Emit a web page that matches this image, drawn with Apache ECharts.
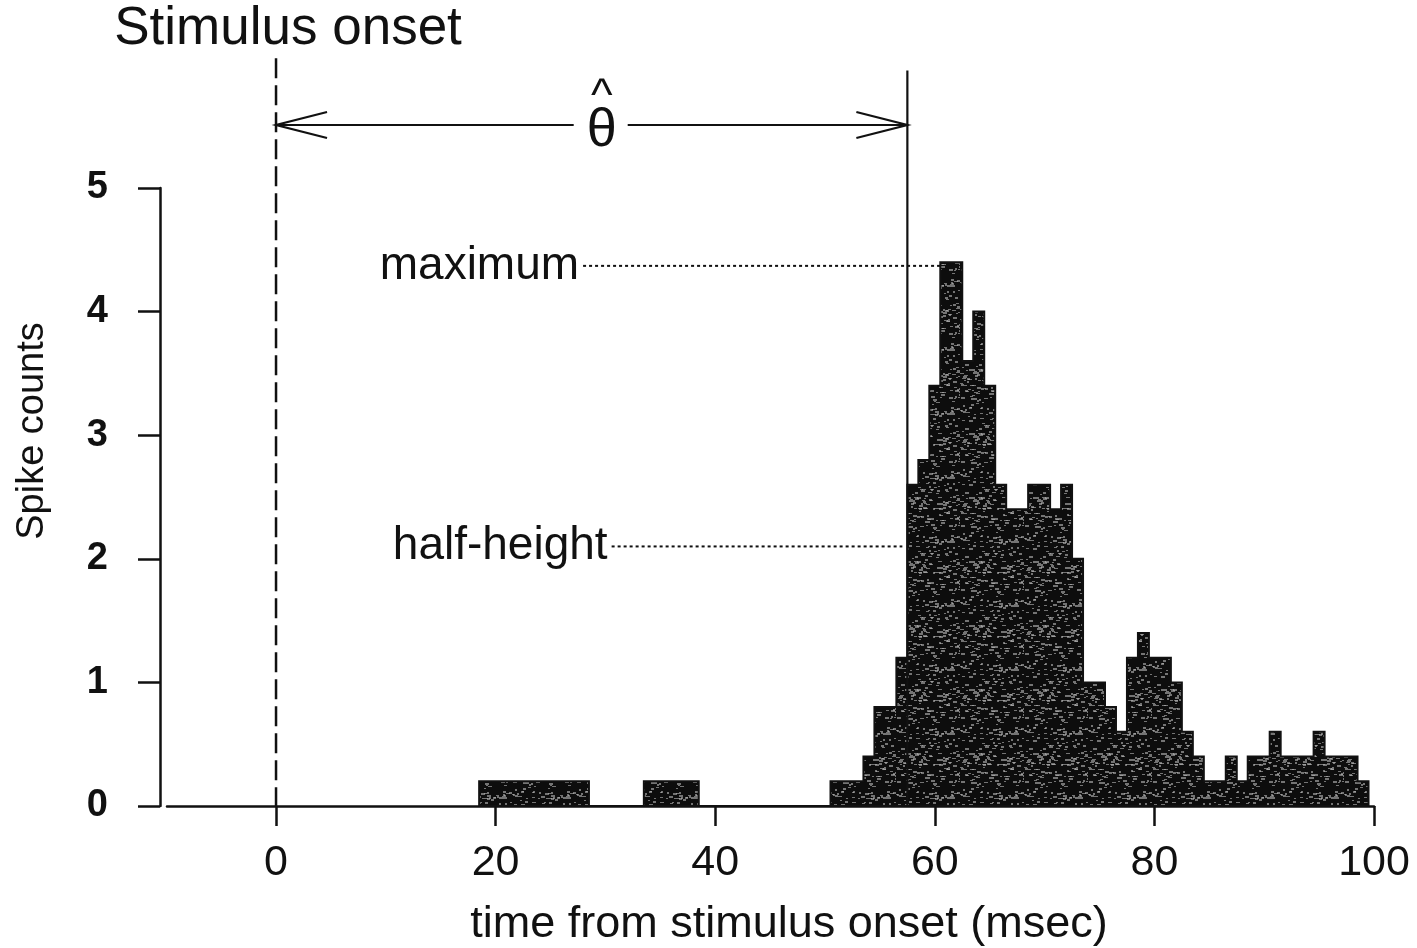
<!DOCTYPE html>
<html>
<head>
<meta charset="utf-8">
<script src="https://cdn.jsdelivr.net/npm/echarts@6/dist/echarts.min.js"></script>
<style>
  html, body { margin: 0; padding: 0; background: #fff; }
  #chart { width: 1417px; height: 948px; }
</style>
</head>
<body>
<div id="chart"></div>
<script>
// Peri-stimulus time histogram, 1-ms bins (bin centres in msec)
const binTimes = [
  19, 20, 21, 22, 23, 24, 25, 26, 27, 28,
  34, 35, 36, 37, 38,
  51, 52, 53, 54, 55, 56, 57, 58, 59, 60,
  61, 62, 63, 64, 65, 66, 67, 68, 69, 70,
  71, 72, 73, 74, 75, 76, 77, 78, 79, 80,
  81, 82, 83, 84, 85, 86, 87, 88, 89, 90,
  91, 92, 93, 94, 95, 96, 97, 98, 99
];
const spikeCounts = [
  0.2, 0.2, 0.2, 0.2, 0.2, 0.2, 0.2, 0.2, 0.2, 0.2,
  0.2, 0.2, 0.2, 0.2, 0.2,
  0.2, 0.2, 0.2, 0.4, 0.8, 0.8, 1.2, 2.6, 2.8, 3.4,
  4.4, 4.4, 3.6, 4.0, 3.4, 2.6, 2.4, 2.4, 2.6, 2.6,
  2.4, 2.6, 2.0, 1.0, 1.0, 0.8, 0.6, 1.2, 1.4, 1.2,
  1.2, 1.0, 0.6, 0.4, 0.2, 0.2, 0.4, 0.2, 0.4, 0.4,
  0.6, 0.4, 0.4, 0.4, 0.6, 0.4, 0.4, 0.4, 0.2
];
const xTicks = [0, 20, 40, 60, 80, 100];
const yTicks = [0, 1, 2, 3, 4, 5];

// Latency annotation values
const onsetTime = 0;        // stimulus onset
const thetaHat = 57.5;      // estimated latency
const maxLevel = 4.37;      // "maximum" reference level
const halfLevel = 2.1;      // "half-height" reference level
const peakEdge = 60.5;      // left edge of the peak bin

const FONT = "'Liberation Sans', Arial, Helvetica, sans-serif";
const INK = '#111';

// Stippled dark fill for the histogram
function makeTexture() {
  const c = document.createElement('canvas');
  c.width = 64; c.height = 64;
  const g = c.getContext('2d');
  g.fillStyle = '#0d0d0d';
  g.fillRect(0, 0, 64, 64);
  g.fillStyle = 'rgba(185,185,185,0.6)';
  let s = 7;
  for (let i = 0; i < 190; i++) {
    s = (s * 73 + 41) % 4096;
    const x = s % 64, y = Math.floor(s / 64);
    g.fillRect(x, y, 2 + (i % 3), 1 + (i % 2));
  }
  return c;
}
const texture = makeTexture();

function renderHistogram(params, api) {
  const P = (x, y) => api.coord([x, y]);
  const countAt = new Map(binTimes.map((t, i) => [t, spikeCounts[i]]));
  const first = binTimes[0], last = binTimes[binTimes.length - 1];
  const pts = [P(first - 0.5, 0)];
  for (let t = first; t <= last; t++) {
    const c = countAt.get(t) || 0;
    pts.push(P(t - 0.5, c), P(t + 0.5, c));
  }
  pts.push(P(last + 0.5, 0));
  return {
    type: 'polygon',
    shape: { points: pts },
    style: { fill: { image: texture, repeat: 'repeat' }, stroke: INK, lineWidth: 2, lineJoin: 'miter' }
  };
}

function renderAnnotations(params, api) {
  const P = (x, y) => api.coord([x, y]);
  const kids = [];
  const line = (a, b, style) => kids.push({
    type: 'line', shape: { x1: a[0], y1: a[1], x2: b[0], y2: b[1] },
    style: Object.assign({ stroke: INK, lineWidth: 2 }, style)
  });
  const text = (str, x, y, size, align, extra) => kids.push({
    type: 'text', x: x, y: y,
    style: Object.assign({ text: str, fill: INK, font: size + 'px ' + FONT, align: align, verticalAlign: 'middle' }, extra || {})
  });

  // stimulus onset (dashed) and latency marker (solid)
  const onTop = P(onsetTime, 6.05), onBot = P(onsetTime, 0);
  line(onTop, onBot, { lineWidth: 2.5, lineDash: [20, 7] });
  text('Stimulus onset', onTop[0] + 12, onTop[1] - 29, 53, 'center');
  const thTop = P(thetaHat, 5.95), thBot = P(thetaHat, 0);
  line(thTop, thBot, { lineWidth: 2.2 });

  // double-headed arrow between onset and latency
  const aL = P(onsetTime, 5.51), aR = P(thetaHat, 5.51);
  const midX = (aL[0] + aR[0]) / 2 + 10;
  line(aL, [midX - 28, aL[1]], { lineWidth: 2 });
  line([midX + 26, aR[1]], aR, { lineWidth: 2 });
  kids.push({ type: 'polyline', shape: { points: [[aL[0] + 51, aL[1] - 13], aL, [aL[0] + 51, aL[1] + 13]] },
    style: { stroke: INK, lineWidth: 2.2, fill: null } });
  kids.push({ type: 'polyline', shape: { points: [[aR[0] - 51, aR[1] - 13], aR, [aR[0] - 51, aR[1] + 13]] },
    style: { stroke: INK, lineWidth: 2.2, fill: null } });
  text('\u03B8', midX, aL[1] + 6, 54, 'center');
  text('^', midX, aL[1] - 28, 46, 'center');

  // maximum and half-height reference levels
  const mx0 = P(27.6, maxLevel), mx1 = P(peakEdge, maxLevel);
  text('maximum', mx0[0], mx0[1], 46, 'right');
  line([mx0[0] + 4, mx0[1]], mx1, { lineWidth: 2, lineDash: [3, 3] });
  const hh0 = P(30.2, halfLevel), hh1 = P(thetaHat, halfLevel);
  text('half-height', hh0[0], hh0[1], 46, 'right');
  line([hh0[0] + 4, hh0[1]], [hh1[0] - 5, hh1[1]], { lineWidth: 2, lineDash: [3, 3] });

  return { type: 'group', children: kids };
}

const chart = echarts.init(document.getElementById('chart'), null, { renderer: 'canvas' });
chart.setOption({
  backgroundColor: '#fff',
  animation: false,
  grid: { left: 167, right: 43, top: 188, bottom: 142, containLabel: false },
  xAxis: {
    type: 'value', min: -9.93, max: 100,
    axisLine: { show: true, onZero: false, lineStyle: { color: INK, width: 2.5 } },
    axisTick: { show: true, customValues: xTicks, length: 20, lineStyle: { color: INK, width: 2.5 } },
    axisLabel: { customValues: xTicks, color: INK, fontSize: 43, fontFamily: FONT, margin: 36 },
    splitLine: { show: false }
  },
  yAxis: {
    type: 'value', min: 0, max: 5, interval: 1, offset: 7,
    axisLine: { show: true, onZero: false, lineStyle: { color: INK, width: 2.5 } },
    axisTick: { show: true, length: 22, lineStyle: { color: INK, width: 2.5 } },
    axisLabel: { color: INK, fontSize: 38, fontWeight: 'bold', fontFamily: FONT, margin: 52,
      formatter: v => (yTicks.indexOf(v) >= 0 ? String(v) : '') },
    splitLine: { show: false }
  },
  graphic: [
    { type: 'text', x: 33, y: 431, rotation: Math.PI / 2,
      style: { text: 'Spike counts', fill: INK, font: '38px ' + FONT, align: 'center', verticalAlign: 'middle' } },
    { type: 'text', x: 789, y: 925,
      style: { text: 'time from stimulus onset (msec)', fill: INK, font: '45px ' + FONT, align: 'center', verticalAlign: 'middle' } }
  ],
  series: [
    { type: 'custom', name: 'histogram', coordinateSystem: 'cartesian2d', clip: false,
      data: [[0, 0]], renderItem: renderHistogram, silent: true },
    { type: 'custom', name: 'annotations', coordinateSystem: 'cartesian2d', clip: false,
      data: [[0, 0]], renderItem: renderAnnotations, silent: true, z: 5 }
  ]
});
</script>
</body>
</html>
